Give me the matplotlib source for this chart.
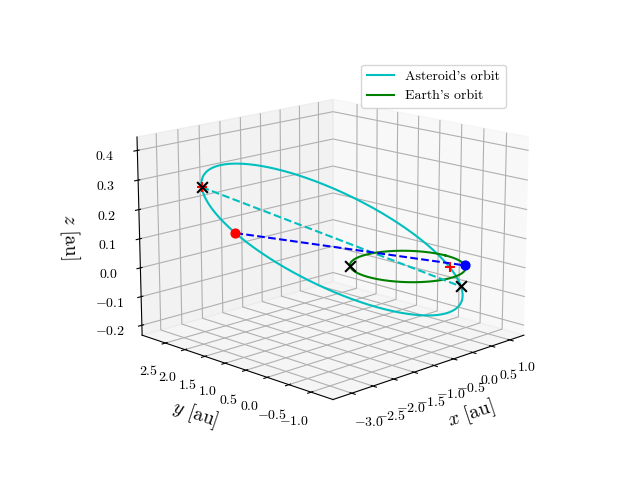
import matplotlib
matplotlib.use('Agg')
import matplotlib.pyplot as plt
import numpy as np

plt.rcParams['font.family'] = 'cmr10'
plt.rcParams['mathtext.fontset'] = 'cm'
plt.rcParams['axes.formatter.use_mathtext'] = True

# asteroid orbit: semi-major axis [au], eccentricity, periapsis/in-plane directions
a_ast = 2.26
e_ast = 0.58
p_dir = [0.78, -0.62, -0.08]
q_dir = [0.61, 0.77, 0.055]
# earth orbit
a_earth = 1.0
# positions
earth_pos = [0.75, -0.66, 0.0]
other_pos = [-0.71, 0.71, 0.0]
ast_E = 3.8    # eccentric anomaly of asteroid
close_E = 0.3  # eccentric anomaly of closest approach point

P = np.array(p_dir); P /= np.linalg.norm(P)
Q = np.array(q_dir); Q -= Q.dot(P) * P; Q /= np.linalg.norm(Q)
b_ast = a_ast * np.sqrt(1 - e_ast**2)

def ast_point(E):
    E = np.asarray(E)
    return (a_ast * (np.cos(E) - e_ast))[..., None] * P + (b_ast * np.sin(E))[..., None] * Q

E = np.linspace(0, 2 * np.pi, 400)
orb = ast_point(E)
th = np.linspace(0, 2 * np.pi, 400)
ex, ey = a_earth * np.cos(th), a_earth * np.sin(th)

peri = ast_point(0.0)
aph = ast_point(np.pi)
ast = ast_point(ast_E)
close = ast_point(close_E)

fig = plt.figure(figsize=(6.4, 4.8))
ax = fig.add_subplot(projection='3d')
ax.plot(orb[:, 0], orb[:, 1], orb[:, 2], 'c', label="Asteroid's orbit")
ax.plot(ex, ey, 0 * ex, 'g', label="Earth's orbit")
ax.plot([aph[0], peri[0]], [aph[1], peri[1]], [aph[2], peri[2]], 'c--')
ax.plot([ast[0], earth_pos[0]], [ast[1], earth_pos[1]], [ast[2], earth_pos[2]], 'b--')
ax.scatter(*aph, color='r', marker='+', s=60)
ax.scatter(*close, color='r', marker='+', s=60)
for pt in (aph, peri, other_pos):
    ax.scatter(*pt, color='k', marker='x', s=60, linewidths=1.5)
ax.scatter(*ast, color='r', s=40)
ax.scatter(*earth_pos, color='b', s=40)

ax.set_zlim(-0.235, 0.445)
ax.set_xticks(np.arange(-3, 1.01, 0.5))
ax.set_yticks(np.arange(-1, 2.51, 0.5))
ax.set_xlabel('$x$ [au]', fontsize=14)
ax.set_ylabel('$y$ [au]', fontsize=14)
ax.set_zlabel('$z$ [au]', fontsize=14)
ax.view_init(elev=15, azim=225)
ax.set_box_aspect(None, zoom=1.15)
ax.legend()
fig.savefig('out.png', dpi=100)
